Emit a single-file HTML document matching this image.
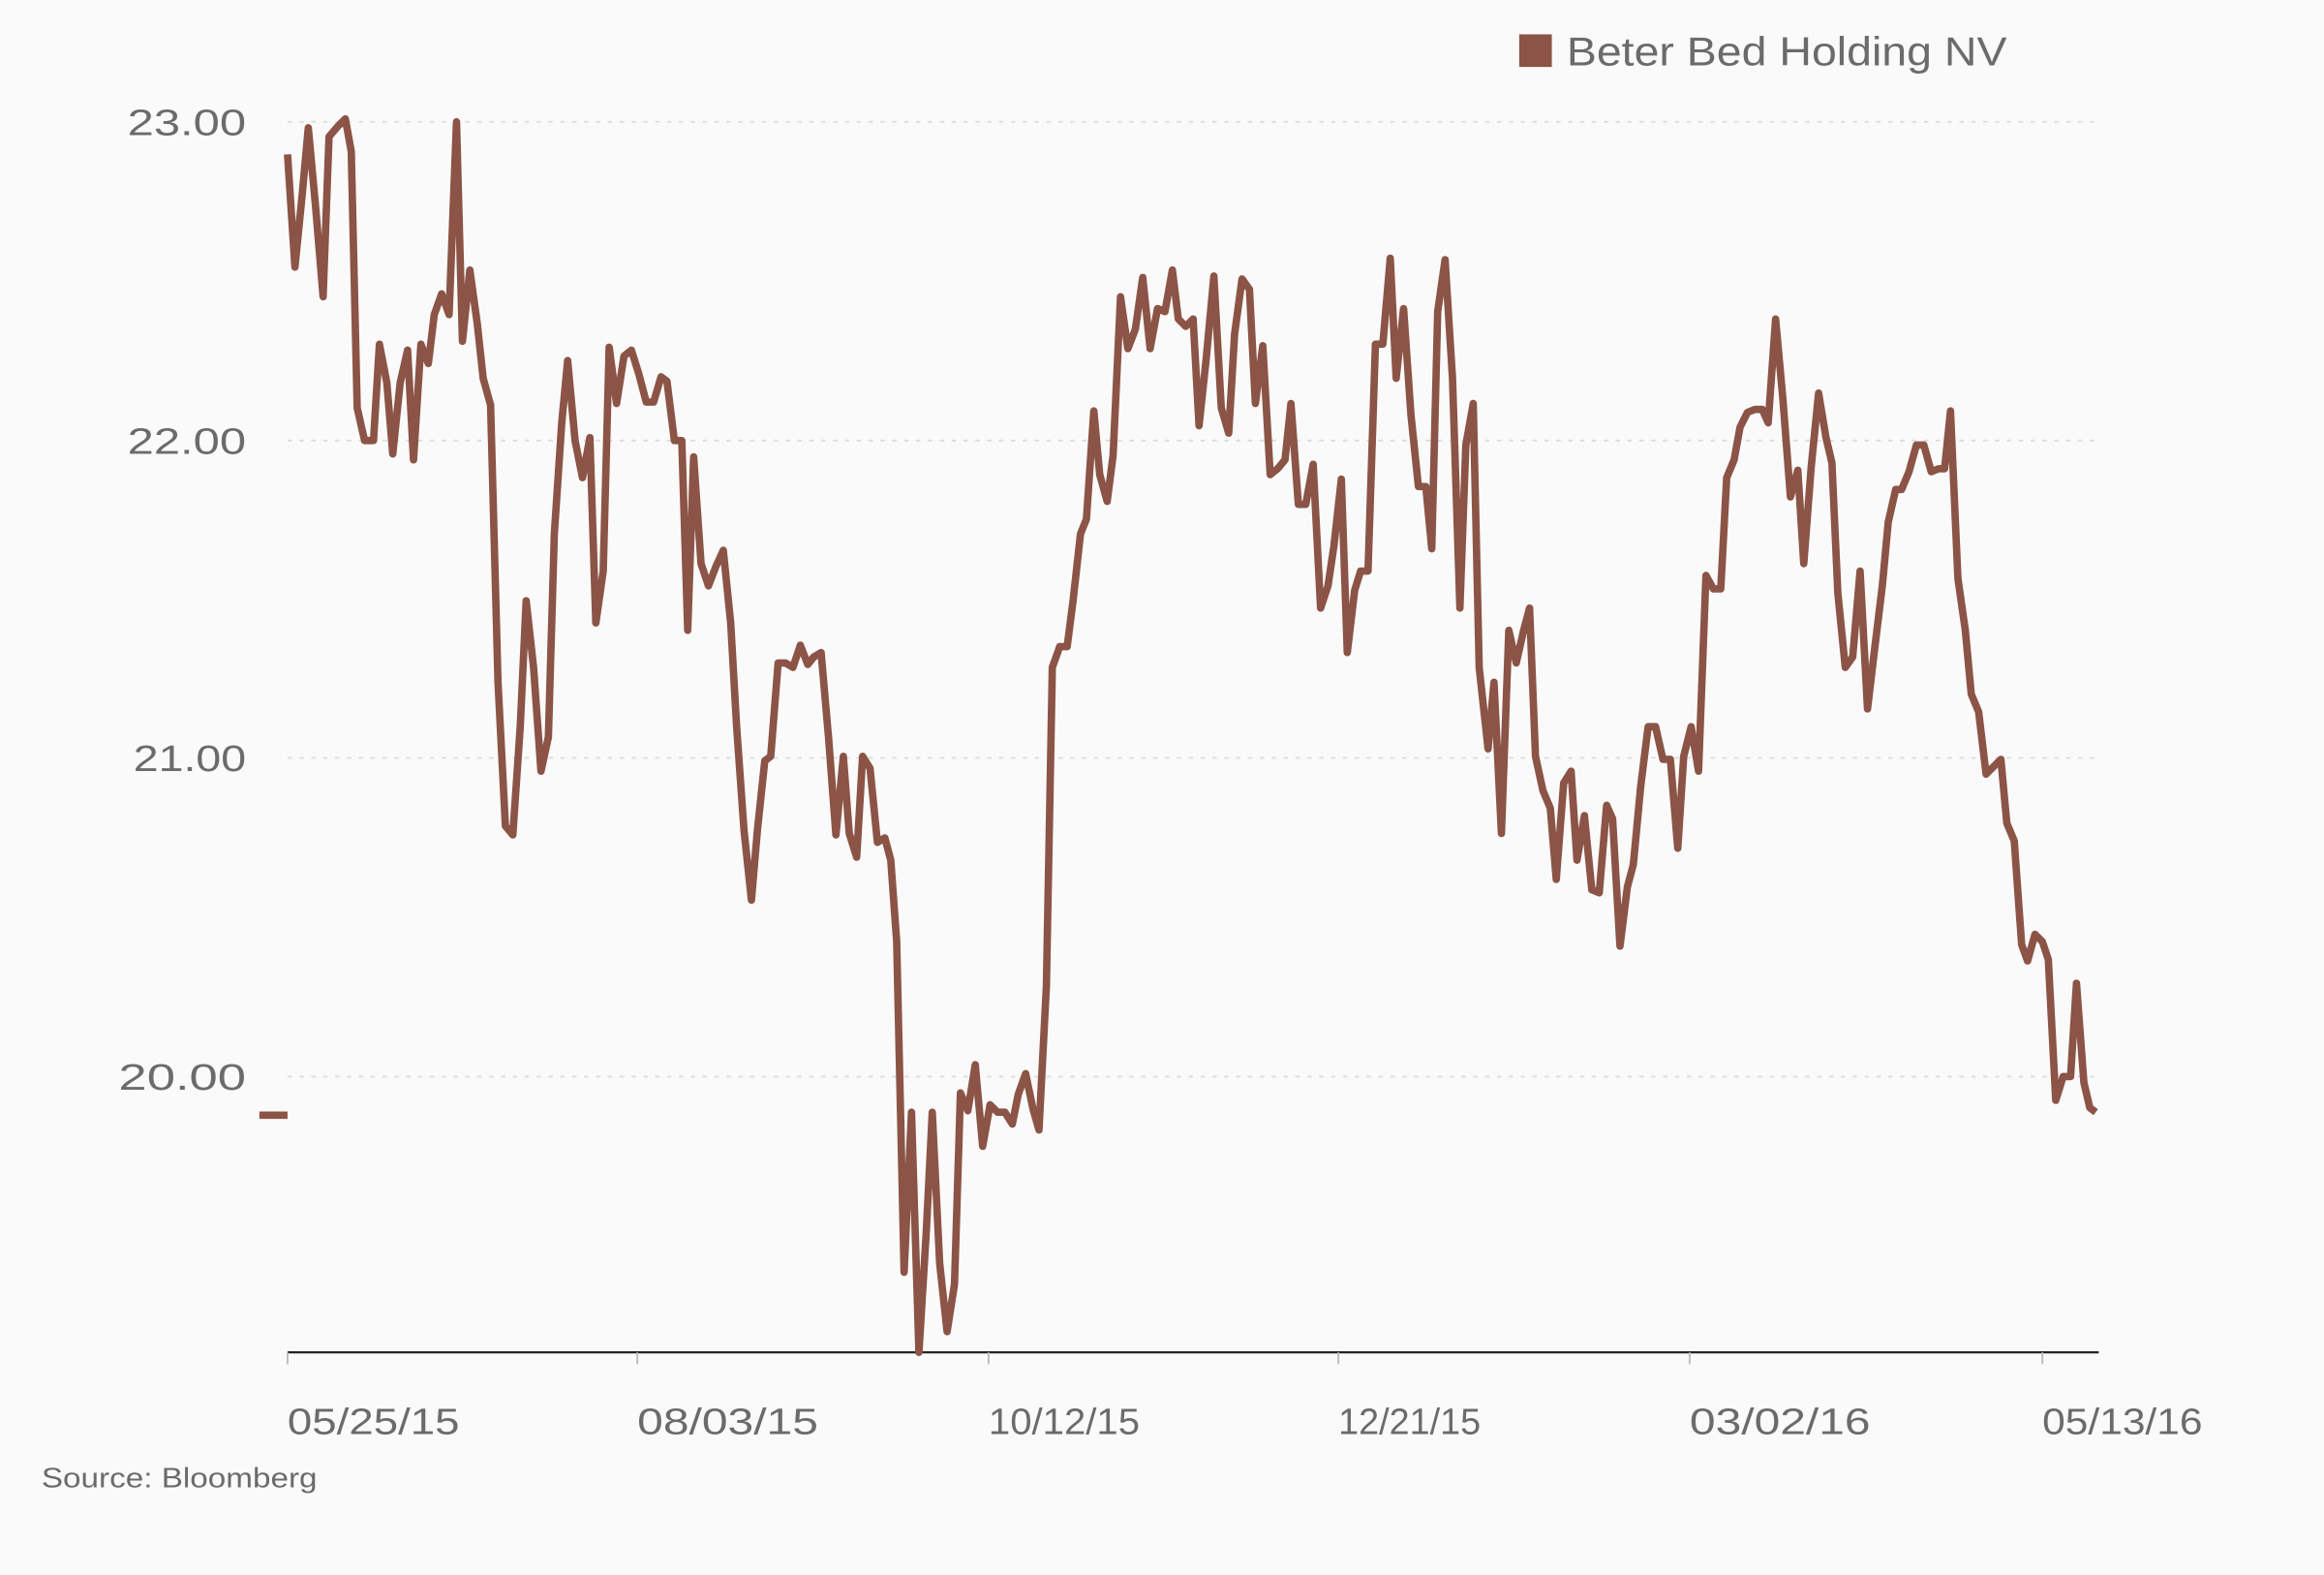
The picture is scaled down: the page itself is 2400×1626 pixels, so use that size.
<!DOCTYPE html>
<html><head><meta charset="utf-8"><style>
html,body{margin:0;padding:0;background:#fafafa;}
svg{display:block;}
text{font-family:"Liberation Sans",sans-serif;fill:#6b6b6b;}
</style></head><body>
<svg width="2400" height="1626" viewBox="0 0 1568 1062" xmlns="http://www.w3.org/2000/svg">
<rect width="1568" height="1062" fill="#fafafa"/>
<g stroke="#dcdcdc" stroke-width="1.2" stroke-dasharray="3,5">
<line x1="194" y1="82" x2="1416" y2="82"/>
<line x1="194" y1="297" x2="1416" y2="297"/>
<line x1="194" y1="511" x2="1416" y2="511"/>
<line x1="194" y1="726" x2="1416" y2="726"/>
</g>
<g font-size="25">
<text x="86" y="91" textLength="80" lengthAdjust="spacingAndGlyphs">23.00</text>
<text x="86" y="306" textLength="80" lengthAdjust="spacingAndGlyphs">22.00</text>
<text x="90" y="520" textLength="76" lengthAdjust="spacingAndGlyphs">21.00</text>
<text x="80" y="735" textLength="86" lengthAdjust="spacingAndGlyphs">20.00</text>
</g>
<line x1="194" y1="912" x2="1416" y2="912" stroke="#222" stroke-width="1.5"/>
<g stroke="#bbb" stroke-width="1.2">
<line x1="194" y1="912" x2="194" y2="920"/><line x1="430" y1="912" x2="430" y2="920"/>
<line x1="667" y1="912" x2="667" y2="920"/><line x1="903" y1="912" x2="903" y2="920"/>
<line x1="1140" y1="912" x2="1140" y2="920"/><line x1="1378" y1="912" x2="1378" y2="920"/>
</g>
<g font-size="25">
<text x="194" y="967" textLength="116" lengthAdjust="spacingAndGlyphs">05/25/15</text>
<text x="430" y="967" textLength="122" lengthAdjust="spacingAndGlyphs">08/03/15</text>
<text x="667" y="967" textLength="102" lengthAdjust="spacingAndGlyphs">10/12/15</text>
<text x="903" y="967" textLength="96" lengthAdjust="spacingAndGlyphs">12/21/15</text>
<text x="1140" y="967" textLength="122" lengthAdjust="spacingAndGlyphs">03/02/16</text>
<text x="1378" y="967" textLength="108" lengthAdjust="spacingAndGlyphs">05/13/16</text>
</g>
<text x="28" y="1003" font-size="19" textLength="186" lengthAdjust="spacingAndGlyphs">Source: Bloomberg</text>
<rect x="1025" y="23" width="22" height="22" fill="#8b5446"/>
<text x="1057" y="44" font-size="27" textLength="297" lengthAdjust="spacingAndGlyphs">Beter Bed Holding NV</text>
<line x1="175" y1="752" x2="194" y2="752" stroke="#8b5446" stroke-width="5"/>
<polyline fill="none" stroke="#8b5446" stroke-width="5" stroke-linejoin="round" points="194,104 199,180 204,130 208,86 213,140 218,200 222,92 228,85 233,80 237,102 241,275 246,297 252,297 256,232 261,258 265,306 270,258 275,236 279,310 284,232 289,245 293,212 298,198 303,212 308,82 312,230 317,182 322,218 326,255 331,273 336,460 341,557 346,563 351,490 355,405 360,450 365,520 370,497 374,360 379,285 383,243 388,297 393,322 398,295 402,420 407,385 411,234 416,272 421,240 426,236 431,252 436,271 441,271 446,254 450,257 455,297 460,297 464,425 468,308 473,380 478,395 483,382 488,371 493,420 497,490 502,560 507,607 511,560 516,513 520,510 525,447 530,447 535,450 540,435 545,448 549,443 554,440 559,497 564,563 569,510 573,562 578,578 582,510 587,518 592,568 597,565 601,580 605,635 610,858 615,750 620,912 625,830 629,750 634,852 639,898 644,866 648,737 653,749 658,718 663,773 668,745 673,750 678,750 683,758 687,738 692,724 697,748 701,762 706,665 710,450 715,436 720,436 724,405 729,360 733,350 738,277 742,320 747,338 751,307 756,200 761,235 766,222 771,187 776,235 781,208 786,210 791,182 795,215 800,220 805,215 809,287 814,240 819,186 824,275 829,292 833,225 838,188 843,195 847,272 852,233 857,320 862,316 867,310 871,272 876,340 881,340 886,313 891,410 896,395 900,368 905,323 909,440 914,398 918,385 923,385 928,232 933,232 938,174 942,255 947,208 952,280 957,328 962,328 966,370 970,210 975,175 980,255 985,410 989,300 994,272 998,450 1004,505 1008,460 1013,562 1018,425 1023,447 1028,425 1032,410 1036,510 1041,533 1046,545 1050,593 1055,528 1060,520 1064,580 1069,550 1074,600 1079,602 1084,543 1088,552 1093,638 1098,598 1102,583 1107,530 1112,490 1117,490 1122,512 1127,512 1132,572 1136,510 1141,490 1146,520 1151,388 1156,397 1161,397 1165,322 1170,310 1174,288 1179,278 1184,276 1189,276 1193,285 1198,215 1203,270 1208,335 1213,317 1217,380 1222,315 1227,265 1232,295 1236,312 1240,400 1245,450 1250,443 1255,385 1260,478 1265,436 1270,395 1274,352 1279,330 1283,330 1288,318 1293,300 1298,300 1303,318 1308,316 1312,316 1316,277 1321,390 1326,425 1330,468 1335,480 1340,522 1345,517 1350,512 1354,555 1359,567 1364,637 1368,648 1373,630 1378,635 1382,647 1387,742 1392,726 1397,726 1401,663 1406,730 1410,747 1414,750"/>
</svg>
</body></html>
